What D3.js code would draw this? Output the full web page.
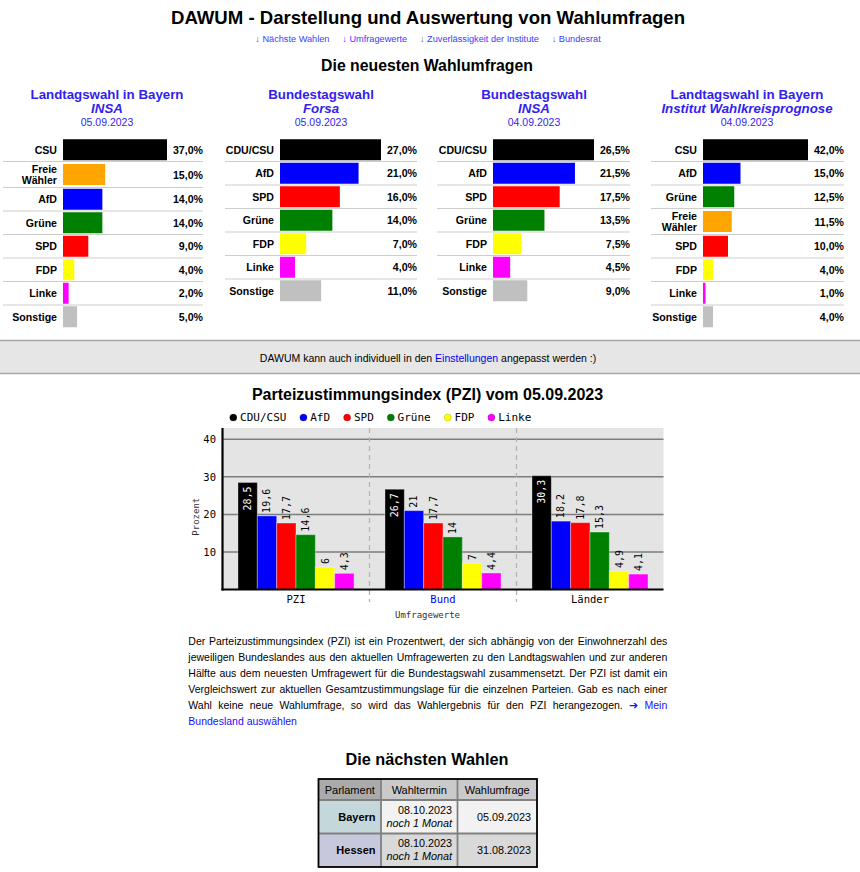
<!DOCTYPE html>
<html><head><meta charset="utf-8">
<script src="https://cdn.jsdelivr.net/npm/d3@7"></script>
<style>body{margin:0;background:#fff}svg{display:block}</style>
</head><body><svg id="c" width="860" height="872"></svg>
<script>
// ---------- DATA ----------
const pageTitle = "DAWUM - Darstellung und Auswertung von Wahlumfragen";
const navLinks = ["Nächste Wahlen","Umfragewerte","Zuverlässigkeit der Institute","Bundesrat"];
const sectionTitle = "Die neuesten Wahlumfragen";

const pollTitles = ["Landtagswahl in Bayern","Bundestagswahl","Bundestagswahl","Landtagswahl in Bayern"];
const pollInstitutes = ["INSA","Forsa","INSA","Institut Wahlkreisprognose"];
const pollDates = ["05.09.2023","05.09.2023","04.09.2023","04.09.2023"];

const poll1Parties = ["CSU","Freie Wähler","AfD","Grüne","SPD","FDP","Linke","Sonstige"];
const poll1Values  = [37,15,14,14,9,4,2,5];
const poll2Parties = ["CDU/CSU","AfD","SPD","Grüne","FDP","Linke","Sonstige"];
const poll2Values  = [27,21,16,14,7,4,11];
const poll3Parties = ["CDU/CSU","AfD","SPD","Grüne","FDP","Linke","Sonstige"];
const poll3Values  = [26.5,21.5,17.5,13.5,7.5,4.5,9];
const poll4Parties = ["CSU","AfD","Grüne","Freie Wähler","SPD","FDP","Linke","Sonstige"];
const poll4Values  = [42,15,12.5,11.5,10,4,1,4];

const partyColors = {"CSU":"#000000","CDU/CSU":"#000000","Freie Wähler":"#ffa500","AfD":"#0000ff",
  "Grüne":"#008000","SPD":"#ff0000","FDP":"#ffff00","Linke":"#ff00ff","Sonstige":"#c0c0c0"};

const bannerText = ["DAWUM kann auch individuell in den ","Einstellungen"," angepasst werden :)"];

const pziTitle = "Parteizustimmungsindex (PZI) vom 05.09.2023";
const pziGroups = ["PZI","Bund","Länder"];
const pziParties = ["CDU/CSU","AfD","SPD","Grüne","FDP","Linke"];
const pziValuesPZI = [28.5,19.6,17.7,14.6,6,4.3];
const pziValuesBund = [26.7,21,17.7,14,7,4.4];
const pziValuesLaender = [30.3,18.2,17.8,15.3,4.9,4.1];
const pziTicks = [10,20,30,40];
const pziYLabel = "Prozent";
const pziXLabel = "Umfragewerte";

const paragraphLines = [
 "Der Parteizustimmungsindex (PZI) ist ein Prozentwert, der sich abhängig von der Einwohnerzahl des",
 "jeweiligen Bundeslandes aus den aktuellen Umfragewerten zu den Landtagswahlen und zur anderen",
 "Hälfte aus dem neuesten Umfragewert für die Bundestagswahl zusammensetzt. Der PZI ist damit ein",
 "Vergleichswert zur aktuellen Gesamtzustimmungslage für die einzelnen Parteien. Gab es nach einer",
 "Wahl keine neue Wahlumfrage, so wird das Wahlergebnis für den PZI herangezogen. ➔ Mein",
 "Bundesland auswählen"
];
const paragraphLinkWords = 4; // last words of the text that are a link

const nextTitle = "Die nächsten Wahlen";
const tableHeaders = ["Parlament","Wahltermin","Wahlumfrage"];
const electionParliaments = ["Bayern","Hessen"];
const electionDates = ["08.10.2023","08.10.2023"];
const electionRemaining = ["noch 1 Monat","noch 1 Monat"];
const electionLatestPoll = ["05.09.2023","31.08.2023"];

// ---------- DRAW ----------
const SANS = "'Liberation Sans', Arial, sans-serif";
const MONO = "'DejaVu Sans Mono', monospace";
const HEAD_BLUE = "#321ef0";
const svg = d3.select("#c");
svg.append("rect").attr("width",860).attr("height",872).attr("fill","#fff");

function measure(txt, font){
  const t = svg.append("text").style("font", font).style("white-space","pre").text(txt);
  const w = t.node().getComputedTextLength(); t.remove(); return w;
}
function txt(x,y,s,font,opts={}){
  return svg.append("text").attr("x",x).attr("y",y).style("font",font)
    .attr("text-anchor",opts.anchor||"middle").attr("fill",opts.fill||"#000").text(s);
}

// title
txt(428,24,pageTitle,`bold 18.6px ${SANS}`);
// nav
{
  const f = `9.2px ${SANS}`;
  const items = navLinks.map(n=>"↓ "+n);
  const ws = items.map(s=>measure(s,f));
  const gap = 12.8;
  const total = d3.sum(ws)+gap*(ws.length-1);
  let x = 428 - total/2;
  items.forEach((s,i)=>{ txt(x,42,s,f,{anchor:"start",fill:"#3b3bff"}); x += ws[i]+gap; });
}
txt(427,70.5,sectionTitle,`bold 15.8px ${SANS}`);

// poll tables
const polls = [
  {parties:poll1Parties, values:poll1Values, left:3, right:203, barStart:63, cx:107},
  {parties:poll2Parties, values:poll2Values, left:225, right:417, barStart:280, cx:321},
  {parties:poll3Parties, values:poll3Values, left:437, right:630, barStart:493, cx:534},
  {parties:poll4Parties, values:poll4Values, left:651, right:844, barStart:703, cx:747},
];
const fmtPct = v => d3.format(".1f")(v).replace(".",",")+"%";
polls.forEach((p,i)=>{
  txt(p.cx,98.5,pollTitles[i],`bold 13.3px ${SANS}`,{fill:HEAD_BLUE});
  txt(p.cx,112.5,pollInstitutes[i],`italic bold 13.3px ${SANS}`,{fill:HEAD_BLUE});
  txt(p.cx,125.5,pollDates[i],`10.5px ${SANS}`,{fill:HEAD_BLUE});
  const barMax = p.right - p.barStart - 36;
  const x = d3.scaleLinear().domain([0,d3.max(p.values)]).range([0,barMax]);
  let y = 138;
  const g = svg.append("g");
  p.parties.forEach((party,j)=>{
    const two = party.includes(" ");
    const h = two ? 26 : 23.5;
    const c = y + h/2;
    g.append("rect").attr("x",p.barStart).attr("y",c-10.5).attr("width",x(p.values[j])).attr("height",21)
      .attr("fill",partyColors[party]);
    const lf = `bold 10.6px ${SANS}`;
    if(two){
      const parts = party.split(" ");
      txt(p.barStart-6,c-1.5,parts[0],lf,{anchor:"end"});
      txt(p.barStart-6,c+9.5,parts[1],lf,{anchor:"end"});
    } else txt(p.barStart-6,c+4,party,lf,{anchor:"end"});
    txt(p.right,c+4,fmtPct(p.values[j]),lf,{anchor:"end"});
    y += h;
    if(j < p.parties.length-1)
      g.append("line").attr("x1",p.left).attr("x2",p.right).attr("y1",y).attr("y2",y)
        .attr("stroke","#cdcdcd").attr("stroke-width",1.2);
  });
});

// banner
svg.append("rect").attr("x",0).attr("y",340.5).attr("width",860).attr("height",33).attr("fill","#e6e6e6");
[340.5,373.5].forEach(yy=>svg.append("line").attr("x1",0).attr("x2",860).attr("y1",yy).attr("y2",yy)
  .attr("stroke","#a8a8a8").attr("stroke-width",1.5));
{
  const t = svg.append("text").attr("x",428).attr("y",362).attr("text-anchor","middle").style("font",`10.5px ${SANS}`).style("white-space","pre");
  bannerText.forEach((s,i)=>t.append("tspan").attr("fill",i===1?"#0000ee":"#000").text(s));
}

// PZI chart
txt(427.5,400,pziTitle,`bold 16px ${SANS}`);
{
  const plot = {l:222.5,r:663.5,t:428,b:589.5};
  const x0 = d3.scaleBand().domain(pziGroups).range([plot.l,plot.r]);
  const x1 = d3.scaleBand().domain(pziParties).range([0,x0.bandwidth()]).paddingOuter(0.8);
  const y = d3.scaleLinear().domain([0,43]).range([plot.b,plot.t]);
  const series = [pziValuesPZI,pziValuesBund,pziValuesLaender];
  // legend
  const lf = `11px ${MONO}`;
  let lx = 233.3;
  pziParties.forEach(p=>{
    svg.append("circle").attr("cx",lx).attr("cy",417.5).attr("r",3.6).attr("fill",partyColors[p])
      .attr("stroke","rgba(0,0,0,0.25)").attr("stroke-width",0.6);
    txt(lx+6.8,421.3,p,lf,{anchor:"start"});
    lx += 6.8 + measure(p,lf) + 17;
  });
  svg.append("rect").attr("x",plot.l).attr("y",plot.t).attr("width",plot.r-plot.l).attr("height",plot.b-plot.t).attr("fill","#e4e4e4");
  // grid
  svg.append("g").selectAll("line").data(pziTicks).join("line")
    .attr("x1",plot.l).attr("x2",plot.r).attr("y1",d=>y(d)).attr("y2",d=>y(d))
    .attr("stroke","#7d7d7d").attr("stroke-width",1.5);
  // dashed separators
  svg.append("g").selectAll("line").data(pziGroups.slice(1)).join("line")
    .attr("x1",d=>x0(d)).attr("x2",d=>x0(d)).attr("y1",plot.t).attr("y2",602)
    .attr("stroke","#b4b4b4").attr("stroke-width",1.3).attr("stroke-dasharray","5,4");
  // bars
  const fmtV = v => String(v).replace(".",",");
  pziGroups.forEach((grp,gi)=>{
    const g = svg.append("g").attr("transform",`translate(${x0(grp)},0)`);
    g.selectAll("rect").data(pziParties).join("rect")
      .attr("x",p=>x1(p)).attr("width",x1.bandwidth())
      .attr("y",(p,k)=>y(series[gi][k])).attr("height",(p,k)=>plot.b-y(series[gi][k]))
      .attr("fill",p=>partyColors[p]).attr("stroke","rgba(255,255,255,0.35)").attr("stroke-width",1);
    g.selectAll("text").data(pziParties).join("text")
      .attr("transform",(p,k)=>{
        const v=series[gi][k], cx=x1(p)+x1.bandwidth()/2;
        return k===0 ? `translate(${cx},${y(v)+4}) rotate(-90)` : `translate(${cx},${y(v)-3}) rotate(-90)`;
      })
      .attr("text-anchor",(p,k)=>k===0?"end":"start").attr("dy","0.35em")
      .attr("fill",(p,k)=>k===0?"#fff":"#000").style("font",`10px ${MONO}`)
      .text((p,k)=>fmtV(series[gi][k]));
  });
  // axes
  svg.append("line").attr("x1",plot.l).attr("x2",plot.l).attr("y1",plot.t).attr("y2",plot.b+1).attr("stroke","#000").attr("stroke-width",2.2);
  svg.append("line").attr("x1",plot.l-1).attr("x2",plot.r).attr("y1",plot.b).attr("y2",plot.b).attr("stroke","#000").attr("stroke-width",2.2);
  svg.append("g").selectAll("text").data(pziTicks).join("text")
    .attr("x",216).attr("y",d=>y(d)).attr("dy","0.35em").attr("text-anchor","end")
    .style("font",`10.5px ${MONO}`).text(d=>d);
  svg.append("g").selectAll("text").data(pziGroups).join("text")
    .attr("x",d=>x0(d)+x0.bandwidth()/2).attr("y",603).attr("text-anchor","middle")
    .attr("fill",d=>d==="Bund"?"#0000ff":"#000").style("font",`10.5px ${MONO}`).text(d=>d);
  txt(427.5,617.5,pziXLabel,`9px ${MONO}`,{fill:"#333"});
  svg.append("text").attr("transform","translate(198.5,516.7) rotate(-90)").attr("text-anchor","middle")
    .attr("fill","#333").style("font",`9px ${MONO}`).text(pziYLabel);
}

// paragraph (justified)
{
  const f = `10.5px ${SANS}`;
  const L = 188.3, R = 667.3;
  const allWords = paragraphLines.map(l=>l.split(" "));
  const totalWords = d3.sum(allWords,w=>w.length);
  const spaceW = measure("a a",f) - measure("aa",f);
  let idx = 0;
  allWords.forEach((words,li)=>{
    const ws = words.map(w=>measure(w,f));
    const last = li===allWords.length-1;
    const gap = last ? spaceW : (R-L-d3.sum(ws))/(words.length-1);
    let x = L;
    words.forEach((w,k)=>{
      const isLink = idx >= totalWords - paragraphLinkWords;
      txt(x,645+li*16,w,f,{anchor:"start",fill:isLink?"#1a0dff":"#000"});
      x += ws[k]+gap; idx++;
    });
  });
}

// next elections
txt(427,765,nextTitle,`bold 16.3px ${SANS}`);
{
  const xs = [318.5,381,457.5,537];
  const ys = [779,800,833.5,867];
  const hdrBg = ["#ababab","#cacaca","#cacaca"];
  const rowBg = [["#c4d8dc","#f2f2f2","#f2f2f2"],["#c8c8dc","#d9d9d9","#d9d9d9"]];
  const f = `10.8px ${SANS}`;
  tableHeaders.forEach((h,i)=>{
    svg.append("rect").attr("x",xs[i]).attr("y",ys[0]).attr("width",xs[i+1]-xs[i]).attr("height",ys[1]-ys[0]).attr("fill",hdrBg[i]);
    txt((xs[i]+xs[i+1])/2,ys[0]+14.5,h,`11px ${SANS}`,{fill:"#000"});
  });
  electionParliaments.forEach((p,r)=>{
    for(let i=0;i<3;i++) svg.append("rect").attr("x",xs[i]).attr("y",ys[r+1]).attr("width",xs[i+1]-xs[i]).attr("height",ys[r+2]-ys[r+1]).attr("fill",rowBg[r][i]);
    const c = (ys[r+1]+ys[r+2])/2;
    txt(xs[1]-5.5,c+4,p,`bold 11px ${SANS}`,{anchor:"end"});
    txt(xs[2]-5.5,c-3,electionDates[r],f,{anchor:"end"});
    txt(xs[2]-5.5,c+10,electionRemaining[r],`italic 10.8px ${SANS}`,{anchor:"end"});
    txt(xs[3]-6,c+4,electionLatestPoll[r],f,{anchor:"end"});
  });
  // inner borders
  [xs[1],xs[2]].forEach(xx=>svg.append("line").attr("x1",xx).attr("x2",xx).attr("y1",ys[0]).attr("y2",ys[3]).attr("stroke","#808080").attr("stroke-width",1.8));
  [ys[1],ys[2]].forEach(yy=>svg.append("line").attr("x1",xs[0]).attr("x2",xs[3]).attr("y1",yy).attr("y2",yy).attr("stroke","#808080").attr("stroke-width",1.8));
  svg.append("rect").attr("x",xs[0]).attr("y",ys[0]).attr("width",xs[3]-xs[0]).attr("height",ys[3]-ys[0])
    .attr("fill","none").attr("stroke","#000").attr("stroke-width",1.8);
}
</script></body></html>
